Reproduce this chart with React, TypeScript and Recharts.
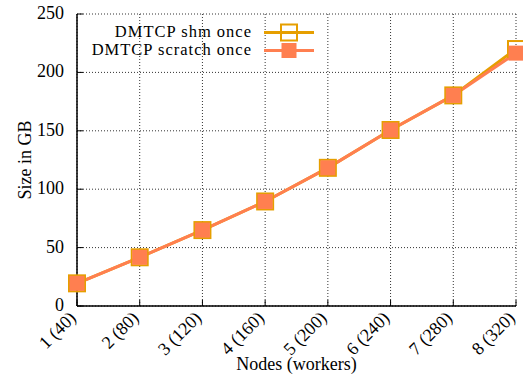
import React from 'react';
import { LineChart, Line, XAxis, YAxis, CartesianGrid, Legend } from 'recharts';

const categories = ['1 (40)', '2 (80)', '3 (120)', '4 (160)', '5 (200)', '6 (240)', '7 (280)', '8 (320)'];
const shmOnce = [19.4, 41.7, 65, 89.5, 118.3, 150.7, 180.3, 220];
const scratchOnce = [19.4, 41.7, 65, 89.5, 118.3, 150.7, 180.3, 216.5];
const yTicks = [0, 50, 100, 150, 200, 250];
const seriesNames = ['DMTCP shm once', 'DMTCP scratch once'];

const data = categories.map((c, i) => ({ name: c, shm: shmOnce[i], scratch: scratchOnce[i] }));

const FONT = 'Liberation Serif';
const SHM = '#E69F00';
const SCR = '#FF7F50';

const ShmDot = (p: any) => {
  const { cx, cy, index } = p;
  if (cx == null || cy == null) return <g key={`s${index}`} />;
  return <rect key={`s${index}`} x={cx - 8} y={cy - 8} width={16} height={16} fill="none" stroke={SHM} strokeWidth={2} />;
};

const ScrDot = (p: any) => {
  const { cx, cy, index } = p;
  if (cx == null || cy == null) return <g key={`c${index}`} />;
  return <rect key={`c${index}`} x={cx - 7.5} y={cy - 7.5} width={15} height={15} fill={SCR} stroke="none" />;
};

const XTick = (p: any) => {
  const { x, y, payload } = p;
  return (
    <text x={x} y={y} transform={`rotate(-45 ${x} ${y})`} textAnchor="end" fontFamily={FONT} fontSize={18} fill="#000">
      {payload.value}
    </text>
  );
};

const YTick = (p: any) => {
  const { x, y, payload } = p;
  return (
    <text x={x} y={y} dy={5} textAnchor="end" fontFamily={FONT} fontSize={18} fill="#000">
      {payload.value}
    </text>
  );
};

const EmptyTick = () => <g />;

const LegendContent = () => (
  <svg width={330} height={64} style={{ display: 'block' }}>
    <g>
      <text x={252} y={36.5} textAnchor="end" fontFamily={FONT} fontSize={16.5} letterSpacing={1} fill="#000">{seriesNames[0]}</text>
      <line x1={264} x2={314} y1={32.5} y2={32.5} stroke={SHM} strokeWidth={3} />
      <rect x={281} y={24.5} width={16} height={16} fill="none" stroke={SHM} strokeWidth={2} />
      <text x={252} y={55} textAnchor="end" fontFamily={FONT} fontSize={16.5} letterSpacing={1} fill="#000">{seriesNames[1]}</text>
      <line x1={264} x2={314} y1={50.5} y2={50.5} stroke={SCR} strokeWidth={3} />
      <rect x={281.5} y={43} width={15} height={15} fill={SCR} />
    </g>
  </svg>
);

export default function App() {
  return (
    <div style={{ position: 'absolute', left: 0, top: 0, background: '#fff', fontFamily: FONT }}>
      <LineChart width={523} height={381} data={data} margin={{ top: 14, right: 7, bottom: 15, left: 17 }}>
        <CartesianGrid stroke="#333" strokeDasharray="1 2" strokeWidth={1} />
        <XAxis
          dataKey="name"
          type="category"
          scale="point"
          padding={{ left: 0, right: 0 }}
          height={60}
          interval={0}
          tickSize={-6}
          tickMargin={19}
          tick={<XTick />}
          axisLine={{ stroke: '#000', strokeWidth: 1.5 }}
          tickLine={{ stroke: '#000', strokeWidth: 1 }}
          label={(lp: any) => {
            const vb = lp.viewBox || { x: 77, y: 306, width: 439 };
            return (
              <text x={vb.x + vb.width / 2} y={vb.y + 64} textAnchor="middle" fontFamily={FONT} fontSize={18} fill="#000">
                Nodes (workers)
              </text>
            );
          }}
        />
        <XAxis
          xAxisId="top"
          orientation="top"
          dataKey="name"
          type="category"
          scale="point"
          padding={{ left: 0, right: 0 }}
          height={0}
          interval={0}
          tickSize={-6}
          tick={<EmptyTick />}
          axisLine={{ stroke: '#000', strokeWidth: 1.5 }}
          tickLine={{ stroke: '#000', strokeWidth: 1 }}
        />
        <YAxis
          type="number"
          domain={[0, 250]}
          ticks={yTicks}
          width={60}
          tickSize={-6}
          tickMargin={19}
          tick={<YTick />}
          axisLine={{ stroke: '#000', strokeWidth: 1.5 }}
          tickLine={{ stroke: '#000', strokeWidth: 1 }}
          label={(lp: any) => {
            const vb = lp.viewBox || { x: 17, y: 14, height: 292 };
            const cx = vb.x + 8;
            const cy = vb.y + vb.height / 2;
            return (
              <text x={cx} y={cy} transform={`rotate(-90 ${cx} ${cy})`} textAnchor="middle" dominantBaseline="central" fontFamily={FONT} fontSize={18} fill="#000">
                Size in GB
              </text>
            );
          }}
        />
        <YAxis
          yAxisId="right"
          orientation="right"
          type="number"
          domain={[0, 250]}
          ticks={yTicks}
          width={0}
          tickSize={-6}
          tick={<EmptyTick />}
          axisLine={{ stroke: '#000', strokeWidth: 1.5 }}
          tickLine={{ stroke: '#000', strokeWidth: 1 }}
        />
        <Legend
          layout="vertical"
          align="center"
          verticalAlign="middle"
          content={<LegendContent />}
          wrapperStyle={{ left: 0, top: 0, width: 330, height: 64 }}
        />
        <Line
          dataKey="shm"
          name={seriesNames[0]}
          stroke={SHM}
          strokeWidth={3}
          dot={ShmDot}
          activeDot={false}
          isAnimationActive={false}
        />
        <Line
          dataKey="scratch"
          name={seriesNames[1]}
          stroke={SCR}
          strokeWidth={3}
          dot={ScrDot}
          activeDot={false}
          isAnimationActive={false}
        />
      </LineChart>
    </div>
  );
}
